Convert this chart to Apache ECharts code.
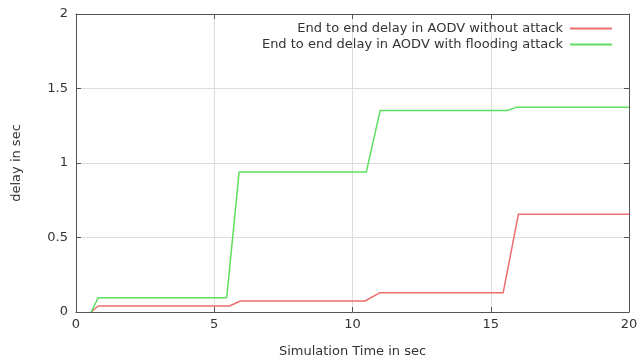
<!DOCTYPE html>
<html>
<head>
<meta charset="utf-8">
<script src="https://cdn.jsdelivr.net/npm/echarts@6/dist/echarts.min.js"></script>
<style>html,body{margin:0;padding:0;background:#fff}#c{width:640px;height:360px}</style>
</head>
<body>
<div id="c"></div>
<script>
var seriesNames = ['End to end delay in AODV without attack', 'End to end delay in AODV with flooding attack'];
var timeNoAttack = [0.55, 0.8, 5.55, 5.95, 10.45, 11.0, 15.45, 16.0, 20];
var delayNoAttack = [0, 0.04, 0.04, 0.074, 0.074, 0.13, 0.13, 0.656, 0.656];
var timeFlood = [0.55, 0.8, 5.45, 5.9, 10.5, 11.0, 15.6, 15.95, 20];
var delayFlood = [0, 0.095, 0.095, 0.94, 0.94, 1.352, 1.352, 1.375, 1.375];
var xTicks = [0, 5, 10, 15, 20];
var yTicks = [0, 0.5, 1, 1.5, 2];

function pairs(xs, ys) { return xs.map(function (x, i) { return [x, ys[i]]; }); }

var font = 'DejaVu Sans';
var fs = 13;
var textColor = '#333';
var redColor = '#ec6e6e';
var greenColor = '#5ee05e';
var chart = echarts.init(document.getElementById('c'), null, {renderer: 'canvas'});
var axisLine = {show: true, onZero: false, lineStyle: {color: '#555', width: 1}};
var tick = {show: true, inside: true, length: 5, lineStyle: {color: '#555'}};
function legendItem(name, top) {
  return {data: [name], right: 23, top: top, align: 'right', itemWidth: 42, itemHeight: 2, icon: 'rect', itemGap: 0,
    textStyle: {fontFamily: font, fontSize: fs, color: textColor, padding: [0, 2, 0, 0]}};
}
chart.setOption({
  animation: false,
  backgroundColor: '#fff',
  textStyle: {fontFamily: font},
  grid: {left: 76, right: 11, top: 14, bottom: 48, containLabel: false, outerBoundsMode: 'none'},
  legend: [legendItem(seriesNames[0], 17), legendItem(seriesNames[1], 33)],
  xAxis: [
    {type: 'value', min: xTicks[0], max: xTicks[xTicks.length - 1], interval: 5, position: 'bottom',
     name: 'Simulation Time in sec', nameLocation: 'middle', nameGap: 33,
     nameTextStyle: {fontFamily: font, fontSize: fs, color: textColor},
     axisLine: axisLine, axisTick: tick,
     axisLabel: {fontFamily: font, fontSize: fs, color: textColor, margin: 6},
     splitLine: {show: true, lineStyle: {color: '#ddd', width: 1}}},
    {type: 'value', min: xTicks[0], max: xTicks[xTicks.length - 1], interval: 5, position: 'top',
     axisLine: axisLine, axisTick: tick, axisLabel: {show: false}, splitLine: {show: false}}
  ],
  yAxis: [
    {type: 'value', min: yTicks[0], max: yTicks[yTicks.length - 1], interval: 0.5, position: 'left',
     name: 'delay in sec', nameLocation: 'middle', nameGap: 53,
     nameTextStyle: {fontFamily: font, fontSize: fs, color: textColor},
     axisLine: axisLine, axisTick: tick,
     axisLabel: {fontFamily: font, fontSize: fs, color: textColor, margin: 8},
     splitLine: {show: true, lineStyle: {color: '#ddd', width: 1}}},
    {type: 'value', min: yTicks[0], max: yTicks[yTicks.length - 1], interval: 0.5, position: 'right',
     axisLine: axisLine, axisTick: tick, axisLabel: {show: false}, splitLine: {show: false}}
  ],
  series: [
    {name: seriesNames[0], type: 'line', data: pairs(timeNoAttack, delayNoAttack), showSymbol: false, symbol: 'none',
     lineStyle: {color: redColor, width: 1.5}, itemStyle: {color: redColor}},
    {name: seriesNames[1], type: 'line', data: pairs(timeFlood, delayFlood), showSymbol: false, symbol: 'none',
     lineStyle: {color: greenColor, width: 1.5}, itemStyle: {color: greenColor}}
  ]
});
</script>
</body>
</html>
